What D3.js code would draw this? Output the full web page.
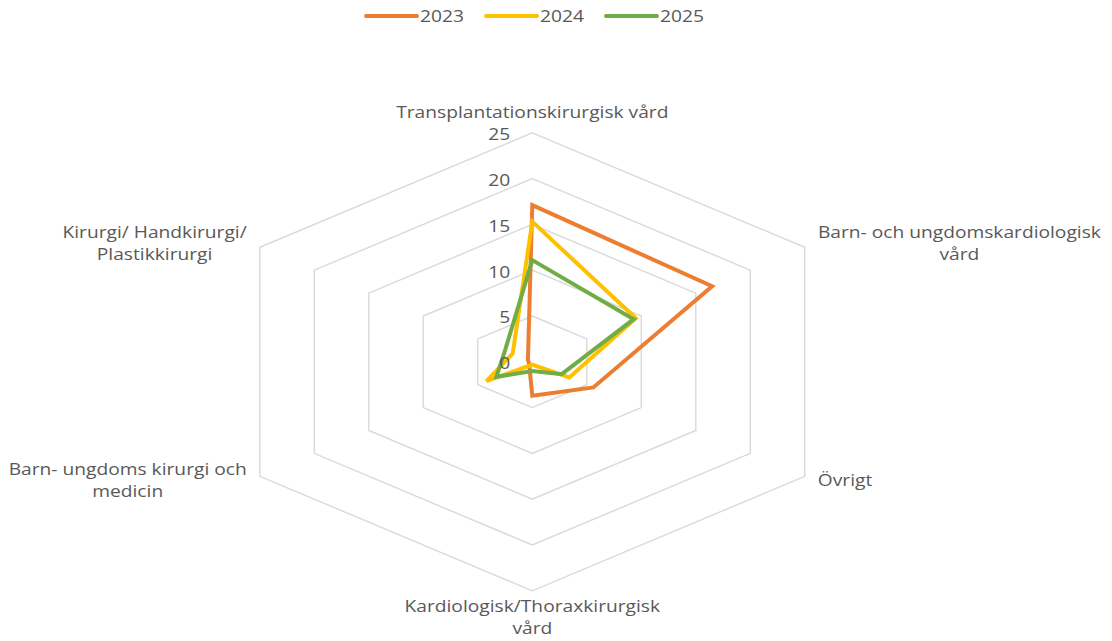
<!DOCTYPE html>
<html>
<head>
<meta charset="utf-8">
<script src="https://cdn.jsdelivr.net/npm/d3@7"></script>
<style>
  html, body { margin: 0; padding: 0; background: #ffffff; }
  svg { display: block; }
  text { font-family: "Open Sans", sans-serif; fill: #595959; }
</style>
</head>
<body>
<svg id="chart" width="1112" height="641"></svg>
<script>
// Categories, clockwise from the top spoke
const categories = [
  "Transplantationskirurgisk vård",
  "Barn- och ungdomskardiologisk\nvård",
  "Övrigt",
  "Kardiologisk/Thoraxkirurgisk\nvård",
  "Barn- ungdoms kirurgi och\nmedicin",
  "Kirurgi/ Handkirurgi/\nPlastikkirurgi"
];
const years = ["2023", "2024", "2025"];
const values2023 = [17.1, 16.5, 5.6, 3.7, 0.3, 0.4];
const values2024 = [15.3, 9.5, 3.4, 0.3, 4.2, 1.8];
const values2025 = [11.1, 9.3, 2.7, 1.0, 3.3, 2.5];
const tickValues = [0, 5, 10, 15, 20, 25];

const seriesColors = ["#ED7D31", "#FFC000", "#70AD47"];
const series = [values2023, values2024, values2025].map((v, i) => ({ name: years[i], values: v, color: seriesColors[i] }));

const svg = d3.select("#chart");

// Plot geometry (the plot area is drawn wider than tall)
const cx = 532.3, cy = 361.8, R = 229, stretchX = 1.374;
const textStretch = 1.2, fontSize = 16;

const r = d3.scaleLinear().domain([0, 25]).range([0, R]);
const angle = d3.scalePoint().domain(d3.range(categories.length + 1)).range([0, 2 * Math.PI]);
const ang = i => angle(i);

const px = (i, v) => cx + stretchX * r(v) * Math.sin(ang(i));
const py = (i, v) => cy - r(v) * Math.cos(ang(i));

// Radial layer in a horizontally scaled group, keeping strokes uniform
const plot = svg.append("g").attr("transform", `translate(${cx},${cy}) scale(${stretchX},1)`);

const radial = d3.lineRadial()
  .angle((d, i) => ang(i))
  .radius(d => r(d))
  .curve(d3.curveLinearClosed);

// Hexagonal gridlines
plot.append("g").selectAll("path")
  .data(tickValues.filter(t => t > 0))
  .join("path")
  .attr("d", t => radial(categories.map(() => t)))
  .attr("fill", "none")
  .attr("stroke", "#D9D9D9")
  .attr("stroke-width", 1.4)
  .attr("vector-effect", "non-scaling-stroke");

// Series lines
plot.append("g").selectAll("path")
  .data(series)
  .join("path")
  .attr("d", s => radial(s.values))
  .attr("fill", "none")
  .attr("stroke", s => s.color)
  .attr("stroke-width", 4)
  .attr("stroke-linejoin", "miter")
  .attr("vector-effect", "non-scaling-stroke");

// Helper: text stretched horizontally around its own anchor point
function stretchedText(sel, x, y) {
  return sel.attr("transform", `translate(${x},${y}) scale(${textStretch},1)`);
}

// Value ticks along the top spoke
const tickG = svg.append("g");
tickValues.forEach(t => {
  stretchedText(tickG.append("text"), cx - 22, cy - r(t) + 1)
    .attr("text-anchor", "end")
    .attr("dominant-baseline", "central")
    .attr("font-size", fontSize)
    .text(t);
});

// Category labels outside the outer ring, one text element per label
const labelG = svg.append("g");
const lineH = 22;
categories.forEach((c, i) => {
  const lines = c.split("\n");
  const vx = px(i, 25), vy = py(i, 25);
  const s = Math.sin(ang(i)), co = Math.cos(ang(i));
  const t = labelG.append("text")
    .attr("font-size", fontSize)
    .attr("text-anchor", "middle")
    .attr("dominant-baseline", "central");
  const spans = lines.map((l, k) => t.append("tspan")
    .attr("x", 0)
    .attr("y", k * lineH)
    .text(l));
  const blockW = d3.max(spans, sp => sp.node().getComputedTextLength()) * textStretch;
  const blockH = lines.length * lineH;
  let bx, by; // block centre
  if (Math.abs(s) < 1e-6) {
    bx = vx;
    by = co > 0 ? vy - 16 - blockH / 2 + 6 : vy + 4 + blockH / 2;
  } else {
    bx = s > 0 ? vx + 13 + blockW / 2 : vx - 13 - blockW / 2;
    by = vy + (co > 0 ? -4.5 : 3.5);
  }
  stretchedText(t, bx, by - blockH / 2 + lineH / 2);
});

// Legend
const legend = svg.append("g");
const legX0 = 366, legY = 16, legStep = 120, legLine = 51;
series.forEach((s, i) => {
  const x = legX0 + i * legStep;
  legend.append("line")
    .attr("x1", x).attr("x2", x + legLine)
    .attr("y1", legY).attr("y2", legY)
    .attr("stroke", s.color)
    .attr("stroke-width", 4)
    .attr("stroke-linecap", "round");
  stretchedText(legend.append("text"), x + legLine + 3, legY)
    .attr("dominant-baseline", "central")
    .attr("font-size", fontSize)
    .text(s.name);
});
</script>
</body>
</html>
